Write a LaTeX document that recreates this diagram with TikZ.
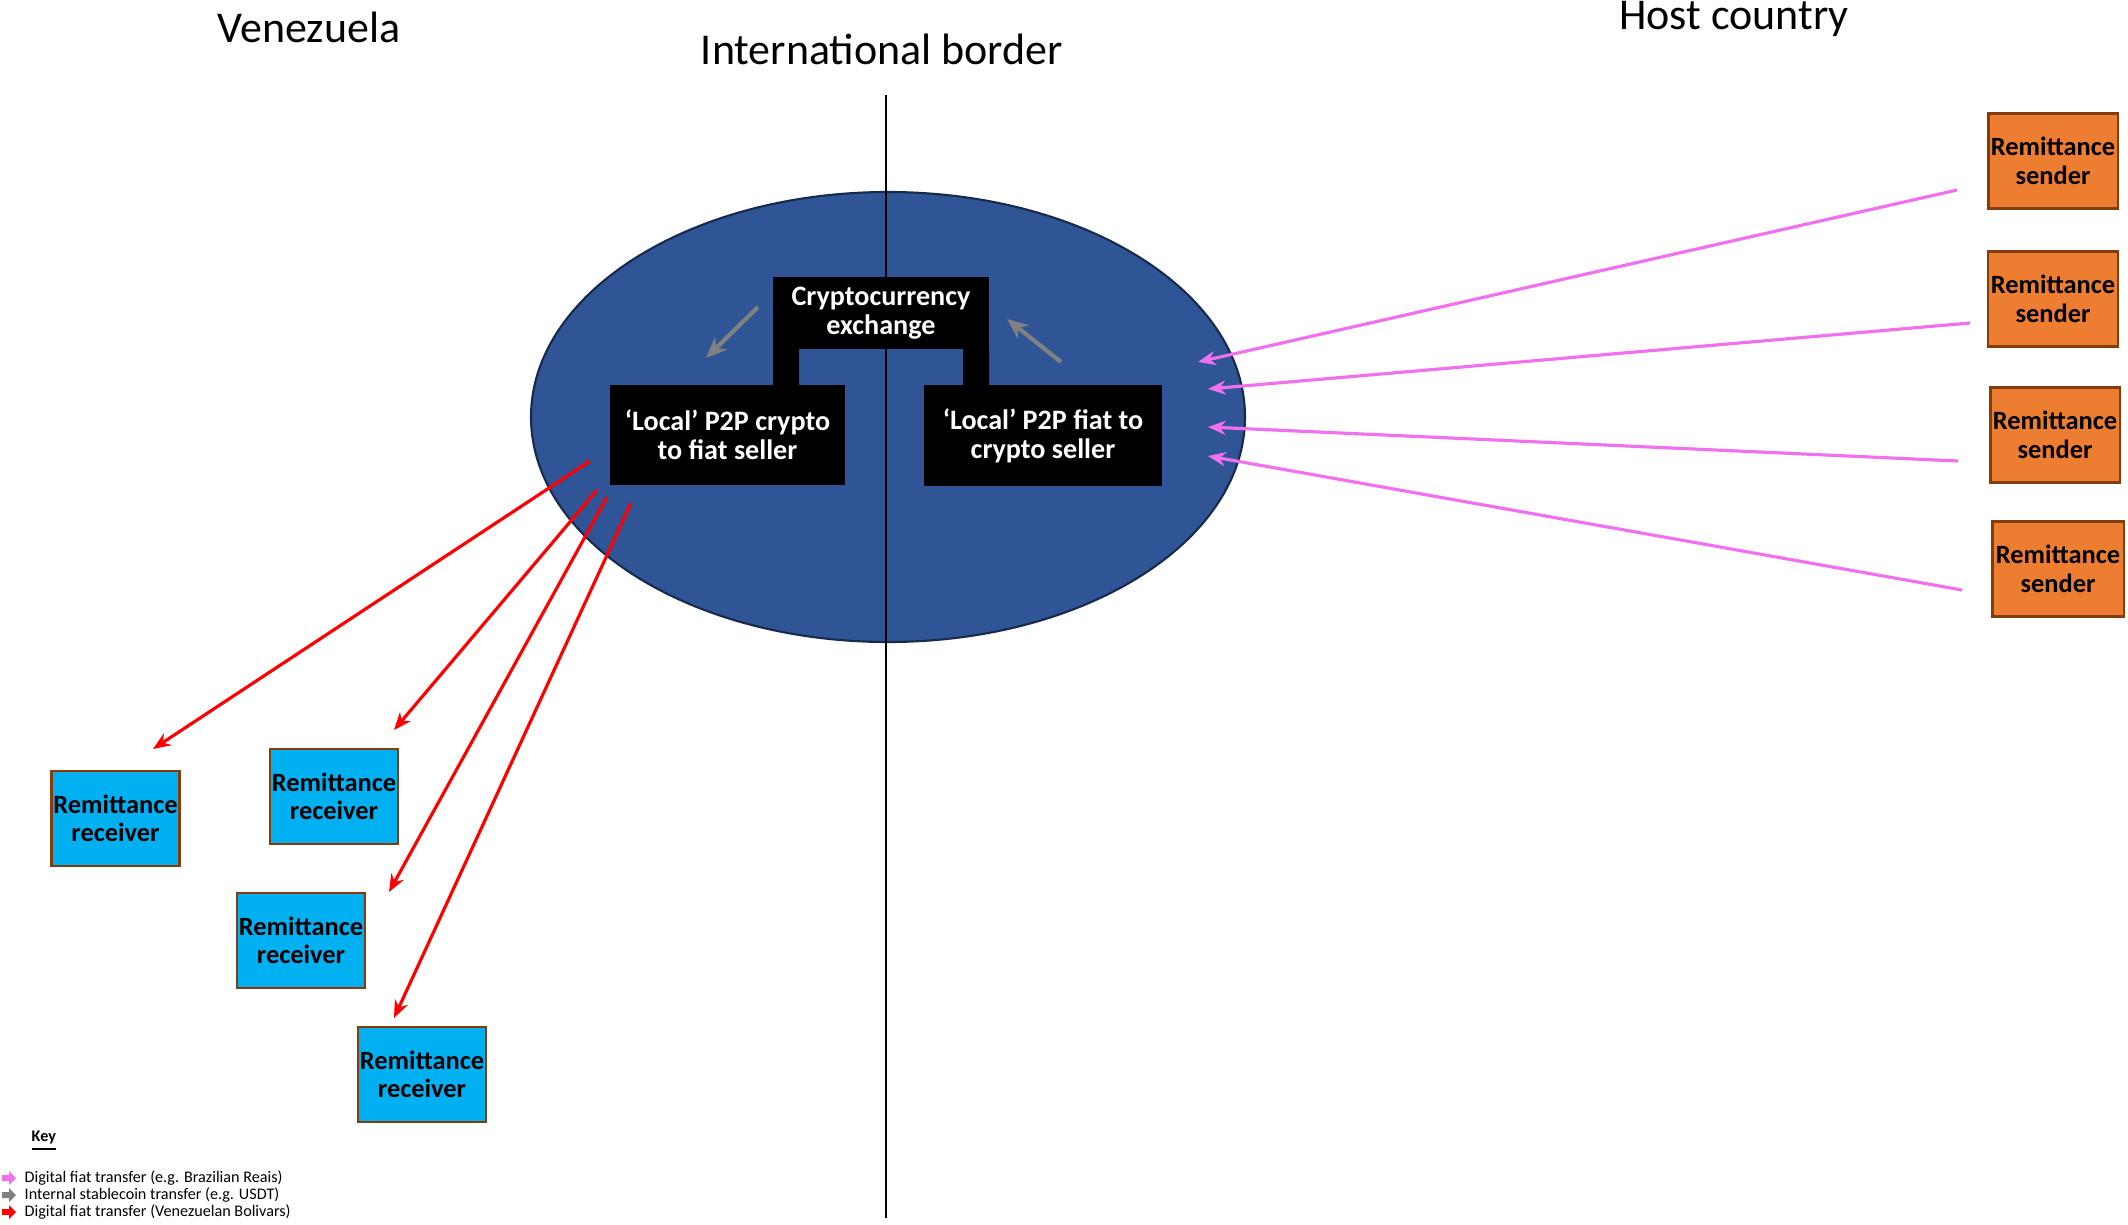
\documentclass[tikz,border=0pt]{standalone}
\usepackage{fontspec}
\setmainfont{Carlito}
\usetikzlibrary{arrows.meta}
\definecolor{ell}{HTML}{2F5597}
\definecolor{orng}{HTML}{ED7D31}
\definecolor{cyn}{HTML}{00B0F0}
\definecolor{brn}{HTML}{843C0C}
\definecolor{pnk}{HTML}{F070F0}
\definecolor{gry}{HTML}{808080}
\begin{document}
\begin{tikzpicture}[x=0.01cm,y=-0.01cm,
  box/.style={draw=brn,line width=0.6pt,minimum width=1.28cm,minimum height=0.95cm,align=center,font=\fontsize{7.5}{8.1}\selectfont\bfseries,inner sep=0pt},
  snd/.style={box,fill=orng},
  rcv/.style={box,fill=cyn},
  blk/.style={fill=black,text=white,align=center,font=\fontsize{8}{8.3}\selectfont\bfseries,inner sep=0pt},
  title/.style={font=\fontsize{12.5}{14}\selectfont},
  parr/.style={pnk,line width=0.9pt,-{Stealth[length=5pt,width=4pt]}},
  rarr/.style={red,line width=0.9pt,-{Stealth[length=5pt,width=4pt]}},
  garr/.style={gry,line width=1.2pt,-{Stealth[length=6pt,width=5pt]}},
  keyt/.style={font=\fontsize{4.6}{5}\selectfont,anchor=west,inner sep=0pt}]
\useasboundingbox (0,0) rectangle (2128,1224);
\node[title] (ven) at (309,27) {Venezuela};
\node[title] (ib) at (882,49) {International border};
\node[title] (hc) at (1734,19) {Host country};
\fill[ell,draw=ell!50!black,line width=0.6pt] (888,417) ellipse [x radius=357, y radius=225];
\coordinate (bt) at (886,95); \coordinate (bb) at (886,1218);
\draw[line width=0.5pt] (bt) -- (bb);
\fill[black] (773,385) rectangle (799,349) (963,385) rectangle (989,349);
\node[blk,minimum width=2.16cm,minimum height=0.72cm] (ex) at (881,313) {Cryptocurrency\\exchange};
\node[blk,minimum width=2.35cm,minimum height=1.0cm] (ls) at (727.5,435) {‘Local’ P2P crypto\\to fiat seller};
\node[blk,minimum width=2.38cm,minimum height=1.01cm] (rs) at (1043,435.5) {‘Local’ P2P fiat to\\crypto seller};
\coordinate (g1a) at (758,307); \coordinate (g1b) at (706,358);
\coordinate (g2a) at (1061,362); \coordinate (g2b) at (1007,319);
\draw[garr] (g1a) -- (g1b);
\draw[garr] (g2a) -- (g2b);
\node[snd,minimum width=1.29cm] (s1) at (2053,161) {Remittance\\sender};
\node[snd,minimum width=1.30cm] (s2) at (2053,299) {Remittance\\sender};
\node[snd,minimum width=1.29cm] (s3) at (2055,435) {Remittance\\sender};
\node[snd,minimum width=1.31cm] (s4) at (2058,569) {Remittance\\sender};
\coordinate (p1a) at (1957,190); \coordinate (p1b) at (1198,362);
\coordinate (p2a) at (1970,323); \coordinate (p2b) at (1208,389);
\coordinate (p3a) at (1958,461); \coordinate (p3b) at (1208,427);
\coordinate (p4a) at (1962,590); \coordinate (p4b) at (1208,456);
\draw[parr] (p1a) -- (p1b);
\draw[parr] (p2a) -- (p2b);
\draw[parr] (p3a) -- (p3b);
\draw[parr] (p4a) -- (p4b);
\node[rcv] (r1) at (115.5,818.5) {Remittance\\receiver};
\node[rcv] (r2) at (334,796.5) {Remittance\\receiver};
\node[rcv] (r3) at (301,940.5) {Remittance\\receiver};
\node[rcv] (r4) at (422,1074.5) {Remittance\\receiver};
\coordinate (q1a) at (590,461); \coordinate (q1b) at (153,749);
\coordinate (q2a) at (597,490); \coordinate (q2b) at (394,730);
\coordinate (q3a) at (607,497); \coordinate (q3b) at (389,892);
\coordinate (q4a) at (631,503); \coordinate (q4b) at (394,1018);
\draw[rarr] (q1a) -- (q1b);
\draw[rarr] (q2a) -- (q2b);
\draw[rarr] (q3a) -- (q3b);
\draw[rarr] (q4a) -- (q4b);
\node[keyt,font=\fontsize{4.6}{5}\selectfont\bfseries] (key) at (31,1141) {\underline{Key}};
\foreach \y/\c/\t [count=\i] in {1178/pnk/{Digital fiat transfer (e.g. Brazilian Reais)},1195/gry/{Internal stablecoin transfer (e.g. USDT)},1212/red/{Digital fiat transfer (Venezuelan Bolivars)}}{
  \fill[\c] (2,\y-3) -- (9,\y-3) -- (9,\y-7) -- (16,\y) -- (9,\y+7) -- (9,\y+3) -- (2,\y+3) -- cycle;
  \node[keyt] (k\i) at (24,\y) {\t};
}
\end{tikzpicture}
\end{document}
